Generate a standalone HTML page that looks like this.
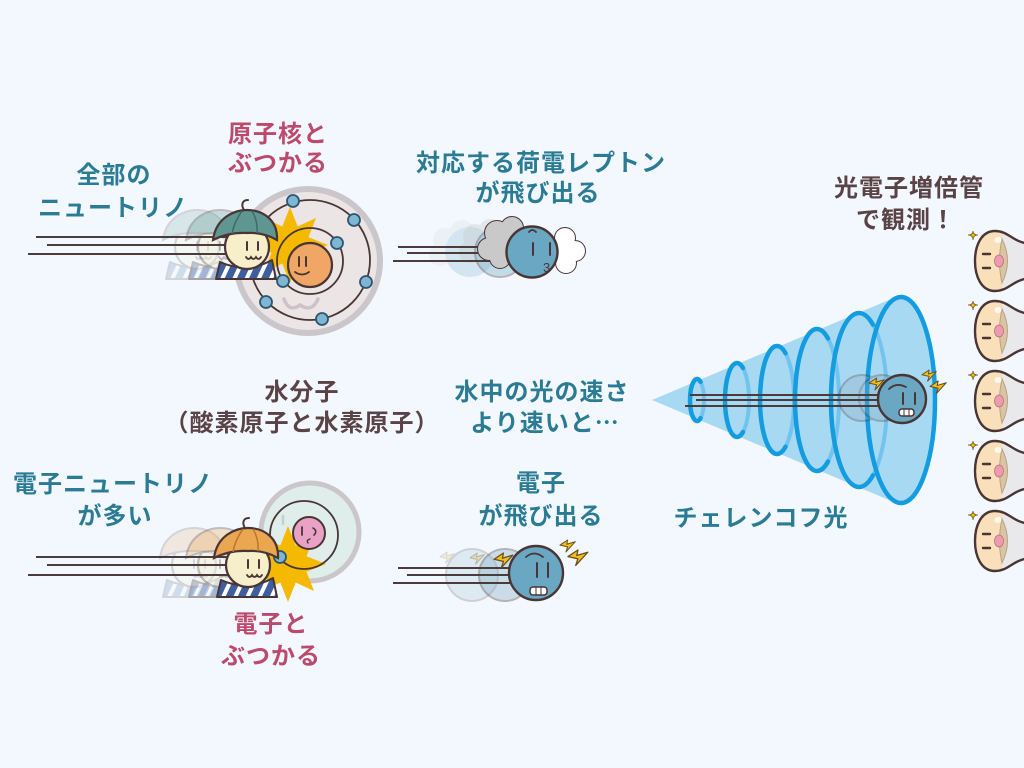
<!DOCTYPE html>
<html><head><meta charset="utf-8">
<style>
html,body{margin:0;padding:0;background:#f2f8fe;}
svg{display:block;}
.t{font-family:"Liberation Sans","Noto Sans CJK JP",sans-serif;font-weight:700;font-size:24px;letter-spacing:1px;}
.teal{fill:#2b7b95;}
.pink{fill:#bc4a6c;}
.brown{fill:#5a4346;}
</style></head><body>
<svg width="1024" height="768" viewBox="0 0 1024 768" xmlns="http://www.w3.org/2000/svg">
<defs>
<pattern id="stripe" width="11" height="30" patternUnits="userSpaceOnUse" patternTransform="rotate(25)">
<rect width="11" height="30" fill="#3d5f9f"/><rect width="4" height="30" fill="#ffffff"/>
</pattern>
<g id="neu">
 <path d="M -27 15 Q 0 27 25 13 L 29 32 L -31 32 Z" fill="url(#stripe)" stroke="#4a3535" stroke-width="2" stroke-linejoin="round"/>
 <circle r="22" fill="#f6efca" stroke="#4a3535" stroke-width="2.2"/>
 <path d="M0 -5 V3 M11 -5 V3" stroke="#4a3535" stroke-width="2" stroke-linecap="round"/>
 <path d="M-1 10 q2.5 4 5 0 q2.5 4 5 0 q2.5 4 5 0" fill="none" stroke="#4a3535" stroke-width="1.8" stroke-linecap="round"/>
</g>
<path id="hat" d="M -34 -7 C -31 -30 -12 -37 0 -37 C 16 -37 31 -27 30 -7 Q 16 -15 0 -14 Q -18 -15 -34 -7 Z"/>
<g id="bolt"><path d="M0 6 L9 0 L8 5 L18 2 L7 14 L9 8 Z" fill="#f3bf1a" stroke="#6a5020" stroke-width="1.2" stroke-linejoin="round"/></g>
<linearGradient id="pmtg" x1="975" x2="1024" y1="0" y2="0" gradientUnits="userSpaceOnUse">
<stop offset="0" stop-color="#fae0ba"/><stop offset="0.55" stop-color="#fae0ba"/><stop offset="0.56" stop-color="#e9e9ec"/><stop offset="1" stop-color="#e9e9ec"/>
</linearGradient>
<g id="pmt">
 <path d="M1030 -17 C 1012 -19 1009 -30 995 -30 C 981 -30 975 -15 975 0 C 975 15 981 30 995 30 C 1009 30 1012 19 1030 17 Z" fill="url(#pmtg)" stroke="#4a3535" stroke-width="2.4"/>
 <path d="M1002 -22 Q 1013 0 1002 22 Q 997 0 1002 -22 Z" fill="#d9c4a5" stroke="#b9a282" stroke-width="1"/>
 <ellipse cx="998" cy="-21" rx="3.5" ry="3" fill="#ffffff" opacity="0.8"/>
 <path d="M983 -7 H990 M983 7 H990" stroke="#4a3535" stroke-width="2.4" stroke-linecap="round"/>
 <ellipse cx="999" cy="0" rx="4.5" ry="6" fill="#ee9bb0" stroke="#b86d80" stroke-width="0.8"/>
 <path d="M973 -30 Q 973 -26 978 -26 Q 973 -26 973 -21 Q 973 -26 968 -26 Q 973 -26 973 -30 Z" fill="#f2c21a" stroke="#7a5a20" stroke-width="0.8"/>
</g>
</defs>

<rect width="1024" height="768" fill="#f2f8fe"/>

<!-- ============ TOP LEFT: atom ============ -->
<circle cx="308" cy="261" r="72" fill="#ece5e6" stroke="#cbc6c9" stroke-width="6"/>
<path d="M284 299 Q 289 313 300 305 Q 312 313 318 299" fill="none" stroke="#cbc3c7" stroke-width="3.5" stroke-linecap="round"/>
<circle cx="310" cy="260" r="60" fill="none" stroke="#4a3535" stroke-width="1.8"/>
<polygon points="290,207 297.7,226.5 316,218 308.5,237.3 328,245 308.5,252.7 316,272 297.7,263.5 290,283 282.3,263.5 264,272 271.5,252.7 252,245 271.5,237.3 264,218 282.3,226.5" fill="#f5b900"/>
<circle cx="310" cy="261" r="33" fill="none" stroke="#4a3535" stroke-width="1.8"/>
<circle cx="310" cy="265" r="22" fill="#f0a766" stroke="#4a3535" stroke-width="2.2"/>
<path d="M299 257 V266 M306 257 V266" stroke="#4a3535" stroke-width="2" stroke-linecap="round"/>
<path d="M295 272 Q 302 277 309 272" fill="none" stroke="#4a3535" stroke-width="1.8" stroke-linecap="round"/>
<g fill="#7fb6d3" stroke="#2d5670" stroke-width="1.8">
<circle cx="293" cy="201" r="6"/><circle cx="354" cy="220" r="6"/><circle cx="337" cy="243" r="6"/>
<circle cx="366" cy="282" r="6"/><circle cx="322" cy="319" r="6"/><circle cx="266" cy="302" r="6"/>
<circle cx="283" cy="281" r="6"/>
</g>

<!-- top-left ghosts -->
<g opacity="0.18" transform="translate(197,247)"><use href="#neu"/><use href="#hat" fill="#5f9691" stroke="#4a3535" stroke-width="2"/></g>
<g opacity="0.3" transform="translate(220,247)"><use href="#neu"/><use href="#hat" fill="#5f9691" stroke="#4a3535" stroke-width="2"/></g>
<!-- lines -->
<g stroke="#4b3b3b" stroke-width="2">
<line x1="36" y1="237" x2="228" y2="237"/>
<line x1="47" y1="245" x2="228" y2="245"/>
<line x1="28" y1="254" x2="228" y2="254"/>
</g>
<!-- top-left neutrino -->
<g transform="translate(247,247)">
<use href="#neu"/>
<use href="#hat" fill="#5f9691" stroke="#4a3535" stroke-width="2.2"/>
<path d="M -15 -13 Q -13 -25 -5 -36 M 10 -14 Q 11 -26 5 -36" fill="none" stroke="#3e6b67" stroke-width="1.5"/>
<path d="M -3 -37 C -6 -42 -5 -47 1 -47" fill="none" stroke="#4a3535" stroke-width="2" stroke-linecap="round"/>
</g>

<!-- ============ TOP MIDDLE: lepton ============ -->
<g opacity="0.22">
<circle cx="445" cy="240" r="12" fill="#d5d5d5"/><circle cx="462" cy="232" r="12" fill="#d5d5d5"/><circle cx="440" cy="255" r="11" fill="#d5d5d5"/>
<circle cx="470" cy="252" r="25" fill="#6aa7c3"/>
</g>
<g opacity="0.35">
<circle cx="475" cy="236" r="12" fill="#c9c9c9"/><circle cx="490" cy="230" r="11" fill="#c9c9c9"/><circle cx="470" cy="252" r="11" fill="#c9c9c9"/>
<circle cx="500" cy="252" r="25" fill="#6aa7c3" stroke="#4a3535" stroke-width="2"/>
</g>
<g stroke="#4b3b3b" stroke-width="2">
<line x1="398" y1="247" x2="510" y2="247"/>
<line x1="407" y1="253" x2="510" y2="253"/>
<line x1="393" y1="261" x2="510" y2="261"/>
</g>
<!-- gray cloud -->
<g stroke="#4a3535" stroke-width="2">
<circle cx="497" cy="233" r="12" fill="#c9c9c9"/><circle cx="512" cy="228" r="11" fill="#c9c9c9"/><circle cx="489" cy="249" r="11" fill="#c9c9c9"/><circle cx="500" cy="258" r="10" fill="#c9c9c9"/>
</g>
<g fill="#c9c9c9">
<circle cx="497" cy="233" r="12"/><circle cx="512" cy="228" r="11"/><circle cx="489" cy="249" r="11"/><circle cx="500" cy="258" r="10"/><circle cx="505" cy="245" r="12"/>
</g>
<!-- white cloud -->
<g stroke="#4a3535" stroke-width="2" fill="#ffffff">
<circle cx="565" cy="238" r="10"/><circle cx="575" cy="251" r="10"/><circle cx="566" cy="263" r="10"/><circle cx="556" cy="250" r="10"/>
</g>
<g fill="#ffffff">
<circle cx="565" cy="238" r="10"/><circle cx="575" cy="251" r="10"/><circle cx="566" cy="263" r="10"/><circle cx="556" cy="250" r="10"/><circle cx="565" cy="250" r="10"/>
</g>
<circle cx="532" cy="252" r="25.5" fill="#6aa7c3" stroke="#4a3535" stroke-width="2.4"/>
<path d="M529 232 q3 -4 7 0" fill="none" stroke="#4a3535" stroke-width="1.8" stroke-linecap="round"/>
<path d="M533 243 V255 M550 243 V255" stroke="#4a3535" stroke-width="2" stroke-linecap="round"/>
<text x="543" y="272" font-family="Liberation Sans, sans-serif" font-size="13" fill="#4a3535">3</text>

<!-- ============ CONE ============ -->
<path d="M652 400 L896 297 L896 503 Z" fill="#a8d9f3"/>
<ellipse cx="901" cy="400" rx="34" ry="103" fill="#a8d9f3"/>
<g fill="none" stroke="#72c3ee" stroke-width="4">
<ellipse cx="697" cy="400" rx="7" ry="21"/>
<ellipse cx="737" cy="400" rx="12" ry="37"/>
<ellipse cx="777" cy="400" rx="17" ry="54"/>
<ellipse cx="817" cy="400" rx="22" ry="71"/>
<ellipse cx="859" cy="400" rx="28" ry="87"/>
</g>
<g fill="none" stroke="#149ce0" stroke-width="4.5" stroke-linecap="round">
<path d="M700.5 381.8 A7 21 0 1 0 700.5 418.2"/>
<path d="M743 368 A12 37 0 1 0 743 432"/>
<path d="M785.5 353.2 A17 54 0 1 0 785.5 446.8"/>
<path d="M828 338.5 A22 71 0 1 0 828 461.5"/>
<path d="M873 324.7 A28 87 0 1 0 873 475.3"/>
<ellipse cx="901" cy="400" rx="34" ry="103"/>
</g>
<g opacity="0.3">
<circle cx="862" cy="398" r="23" fill="#8da9b8" stroke="#4a3535" stroke-width="2"/>
<circle cx="882" cy="398" r="23" fill="#7fa4b8" stroke="#4a3535" stroke-width="2"/>
</g>
<g stroke="#4b3b3b" stroke-width="2">
<line x1="690" y1="395" x2="885" y2="395"/>
<line x1="696" y1="400" x2="885" y2="400"/>
<line x1="685" y1="406" x2="885" y2="406"/>
</g>
<circle cx="902" cy="399" r="24" fill="#6aa7c3" stroke="#4a3535" stroke-width="2.4"/>
<path d="M889 389 Q 896 382 906 387" fill="none" stroke="#4a3535" stroke-width="1.8" stroke-linecap="round"/>
<path d="M903 393 V404 M915 393 V404" stroke="#4a3535" stroke-width="2" stroke-linecap="round"/>
<rect x="899" y="409" width="15" height="7" rx="3" fill="#ffffff" stroke="#4a3535" stroke-width="1.5"/>
<path d="M904 409 V416 M909 409 V416" stroke="#4a3535" stroke-width="1"/>
<use href="#bolt" transform="translate(869,378) scale(0.85)"/>
<use href="#bolt" transform="translate(922,370) scale(0.8)"/>
<use href="#bolt" transform="translate(930,381) scale(0.9)"/>

<!-- ============ PMTs ============ -->
<use href="#pmt" transform="translate(0,261)"/>
<use href="#pmt" transform="translate(0,331)"/>
<use href="#pmt" transform="translate(0,401)"/>
<use href="#pmt" transform="translate(0,471)"/>
<use href="#pmt" transform="translate(0,541)"/>

<!-- ============ BOTTOM LEFT: water ============ -->
<circle cx="310" cy="532" r="49" fill="#dfeeeb" stroke="#cbc6c9" stroke-width="5"/>
<path d="M283 516 V524" stroke="#c7cfcc" stroke-width="2.5" stroke-linecap="round"/>
<polygon points="288,526 295.7,545.5 314,537 306.5,556.3 326,564 306.5,571.7 314,591 295.7,582.5 288,602 280.3,582.5 262,591 269.5,571.7 250,564 269.5,556.3 262,537 280.3,545.5" fill="#f5b900"/>
<circle cx="304" cy="535" r="34" fill="none" stroke="#4a3535" stroke-width="1.8"/>
<circle cx="309" cy="533" r="16" fill="#e9a2c6" stroke="#4a3535" stroke-width="2"/>
<path d="M302 527 V535" stroke="#4a3535" stroke-width="1.8" stroke-linecap="round"/>
<path d="M313 528 Q 318 531 314 535" fill="none" stroke="#4a3535" stroke-width="1.6" stroke-linecap="round"/>
<path d="M310 539 Q 306 540 308 543" fill="none" stroke="#4a3535" stroke-width="1.4" stroke-linecap="round"/>
<circle cx="280" cy="557" r="6" fill="#7fb6d3" stroke="#2d5670" stroke-width="1.8"/>

<g opacity="0.18" transform="translate(194,565)"><use href="#neu"/><use href="#hat" fill="#eaa650" stroke="#4a3535" stroke-width="2"/></g>
<g opacity="0.3" transform="translate(220,565)"><use href="#neu"/><use href="#hat" fill="#eaa650" stroke="#4a3535" stroke-width="2"/></g>
<g stroke="#4b3b3b" stroke-width="2">
<line x1="36" y1="557" x2="228" y2="557"/>
<line x1="47" y1="565" x2="228" y2="565"/>
<line x1="28" y1="575" x2="228" y2="575"/>
</g>
<g transform="translate(248,565)">
<use href="#neu"/>
<use href="#hat" fill="#eaa650" stroke="#4a3535" stroke-width="2.2"/>
<path d="M -15 -13 Q -13 -25 -5 -36 M 10 -14 Q 11 -26 5 -36" fill="none" stroke="#b9772c" stroke-width="1.5"/>
<path d="M -3 -37 C -6 -42 -5 -47 1 -47" fill="none" stroke="#4a3535" stroke-width="2" stroke-linecap="round"/>
</g>

<!-- ============ BOTTOM MIDDLE: electron ============ -->
<g opacity="0.2">
<circle cx="472" cy="575" r="26" fill="#8fb4c6" stroke="#4a3535" stroke-width="2"/>
<use href="#bolt" transform="translate(440,552) scale(0.8)"/>
</g>
<g opacity="0.35">
<circle cx="505" cy="575" r="26" fill="#7eabc1" stroke="#4a3535" stroke-width="2"/>
<use href="#bolt" transform="translate(470,553) scale(0.8)"/>
</g>
<g stroke="#4b3b3b" stroke-width="2">
<line x1="398" y1="568" x2="515" y2="568"/>
<line x1="407" y1="575" x2="515" y2="575"/>
<line x1="393" y1="583" x2="515" y2="583"/>
</g>
<circle cx="536" cy="573" r="27" fill="#6aa7c3" stroke="#4a3535" stroke-width="2.4"/>
<path d="M526 557 Q 534 550 543 557" fill="none" stroke="#4a3535" stroke-width="1.8" stroke-linecap="round"/>
<path d="M537 563 V577 M548 563 V577" stroke="#4a3535" stroke-width="2" stroke-linecap="round"/>
<rect x="530" y="587" width="17" height="8" rx="3" fill="#ffffff" stroke="#4a3535" stroke-width="1.5"/>
<path d="M536 587 V595 M541 587 V595" stroke="#4a3535" stroke-width="1"/>
<use href="#bolt" transform="translate(494,553) scale(1.05)"/>
<use href="#bolt" transform="translate(560,540) scale(0.85)"/>
<use href="#bolt" transform="translate(568,550) scale(1.1)"/>

<!-- ============ TEXT ============ -->
<text class="t teal" x="114" y="183" text-anchor="middle">全部の</text>
<text class="t teal" x="113" y="216" text-anchor="middle">ニュートリノ</text>
<text class="t pink" x="278" y="142" text-anchor="middle">原子核と</text>
<text class="t pink" x="278" y="171" text-anchor="middle">ぶつかる</text>
<text class="t teal" x="541" y="171" text-anchor="middle">対応する荷電レプトン</text>
<text class="t teal" x="538" y="201" text-anchor="middle">が飛び出る</text>
<text class="t brown" x="909" y="196" text-anchor="middle">光電子増倍管</text>
<text class="t brown" x="906" y="228" text-anchor="middle">で観測！</text>
<text class="t brown" x="302" y="400" text-anchor="middle">水分子</text>
<text class="t brown" x="302" y="431" text-anchor="middle">（酸素原子と水素原子）</text>
<text class="t teal" x="542" y="400" text-anchor="middle">水中の光の速さ</text>
<text class="t teal" x="545" y="431" text-anchor="middle">より速いと<tspan font-family="Noto Sans CJK JP, sans-serif">…</tspan></text>
<text class="t teal" x="761" y="526" text-anchor="middle">チェレンコフ光</text>
<text class="t teal" x="113" y="492" text-anchor="middle">電子ニュートリノ</text>
<text class="t teal" x="115" y="524" text-anchor="middle">が多い</text>
<text class="t teal" x="541" y="491" text-anchor="middle">電子</text>
<text class="t teal" x="541" y="524" text-anchor="middle">が飛び出る</text>
<text class="t pink" x="271" y="632" text-anchor="middle">電子と</text>
<text class="t pink" x="271" y="664" text-anchor="middle">ぶつかる</text>
</svg>
</body></html>
